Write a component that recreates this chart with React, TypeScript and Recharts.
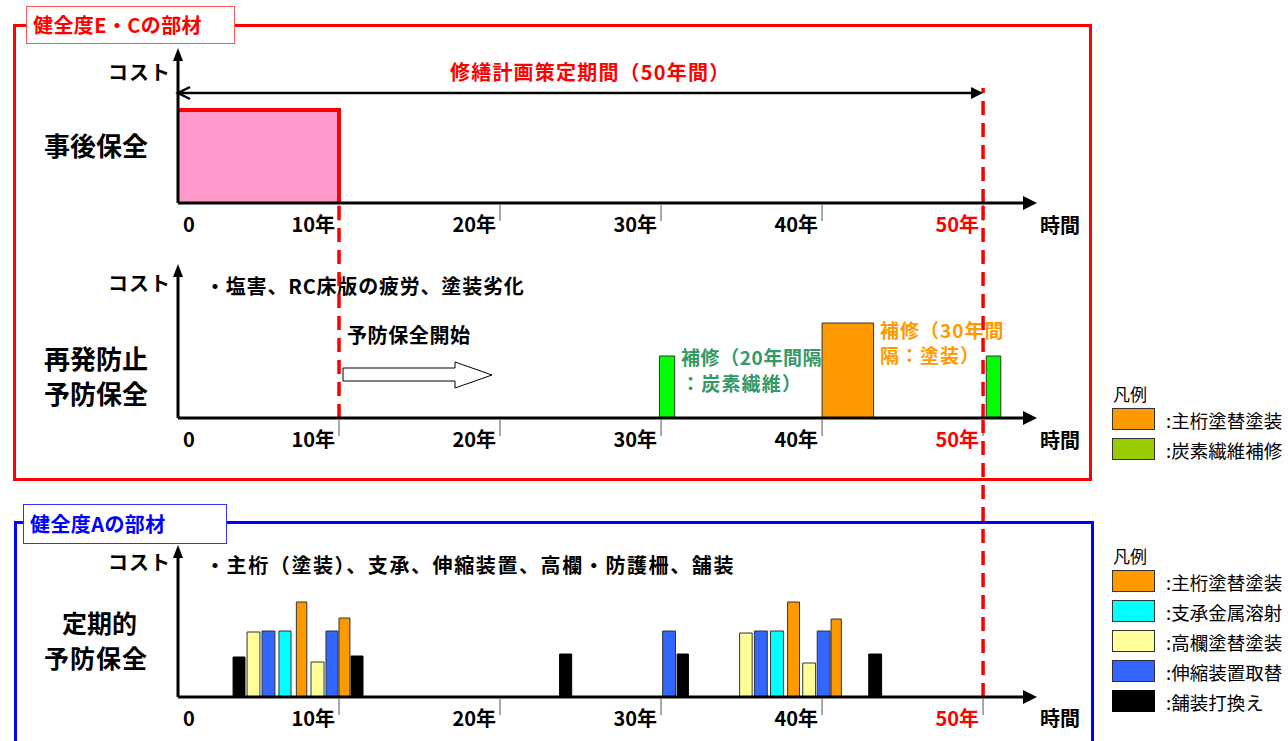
import React from 'react';
import { ComposedChart, XAxis, YAxis, Scatter, ReferenceArea, ReferenceLine } from 'recharts';

// time axis (years)
const yearTicks = [0, 10, 20, 30, 40, 50];
const yearLabels = ['0', '10年', '20年', '30年', '40年', '50年'];
const planEnd = 50;
const preventionStart = 10;

// [from year, to year, cost]
// 健全度E・C : 事後保全
const reactiveRepair: [number, number, number][] = [[0, 10, 93]];
// 健全度E・C : 再発防止予防保全
const carbonFiber: [number, number, number][] = [[29.9, 30.85, 62], [50.2, 51.1, 62]];
const recoating: [number, number, number][] = [[40.0, 43.2, 95]];
// 健全度A : 定期的予防保全
const girderPaint: [number, number, number][] = [[7.35, 8.0, 95], [10.0, 10.68, 79], [37.86, 38.6, 95], [40.56, 41.2, 78]];
const bearingSpray: [number, number, number][] = [[6.27, 7.02, 66], [36.8, 37.6, 66]];
const railingPaint: [number, number, number][] = [[4.29, 5.09, 65], [8.26, 9.07, 35], [34.88, 35.66, 64], [38.8, 39.6, 34]];
const jointReplace: [number, number, number][] = [[5.22, 6.02, 66], [9.19, 9.94, 66], [30.1, 30.9, 66], [35.8, 36.6, 66], [39.7, 40.5, 66]];
const paving: [number, number, number][] = [[3.42, 4.16, 40], [10.75, 11.49, 41], [23.7, 24.45, 43], [31.0, 31.7, 43], [42.9, 43.7, 43]];

const legendTop = [['主桁塗替塗装', '#FF9900'], ['炭素繊維補修', '#99CC00']];
const legendBottom = [
  ['主桁塗替塗装', '#FF9900'],
  ['支承金属溶射', '#00FFFF'],
  ['高欄塗替塗装', '#FFFF99'],
  ['伸縮装置取替', '#3366FF'],
  ['舗装打換え', '#000000'],
];

const FONT = "'Noto Sans CJK JP', 'Noto Sans', sans-serif";
const TICK_FONT = "'Liberation Sans Narrow', 'Noto Sans CJK JP', sans-serif";
const AXIS_LEFT = 178;
const AXIS_END = 1037;
const X_MAX = 53.35;
const RED = '#FF0000';

const Txt = ({ x, y, size, color = '#000', weight = 700, spacing = 0, children }: any) => (
  <div
    style={{
      position: 'absolute',
      left: x,
      top: y,
      transform: 'translateY(-50%)',
      fontSize: size,
      lineHeight: 1,
      fontWeight: weight,
      letterSpacing: spacing,
      color,
      fontFamily: FONT,
      whiteSpace: 'nowrap',
    }}
  >
    {children}
  </div>
);

const YearTick = (props: any) => {
  const { x, y, payload } = props;
  const v = payload.value;
  const label = yearLabels[yearTicks.indexOf(v)];
  return (
    <g>
      {v !== 0 && <line x1={x} y1={y + 2} x2={x} y2={y + 18} stroke="#555" strokeWidth={1} />}
      <text
        x={v === 0 ? x + 5 : x - 4}
        y={y + 29}
        textAnchor={v === 0 ? 'start' : 'end'}
        fill={v === planEnd ? RED : '#000'}
        fontSize={20}
        fontWeight={700}
        fontFamily={TICK_FONT}
      >
        {label}
      </text>
    </g>
  );
};

const arrowShape = (head: number, half: number, width: number, openStart = false) => (p: any) => {
  const { x1, y1, x2, y2 } = p;
  const dx = x2 - x1;
  const dy = y2 - y1;
  const len = Math.hypot(dx, dy) || 1;
  const ux = dx / len;
  const uy = dy / len;
  const bx = x2 - ux * head;
  const by = y2 - uy * head;
  const px = -uy * half;
  const py = ux * half;
  const sx = x1 + ux * head;
  const sy = y1 + uy * head;
  return (
    <g>
      <line x1={x1} y1={y1} x2={bx} y2={by} stroke="#000" strokeWidth={width} />
      <polygon points={`${x2},${y2} ${bx + px},${by + py} ${bx - px},${by - py}`} fill="#000" />
      {openStart && (
        <polyline
          points={`${sx + px},${sy + py} ${x1},${y1} ${sx - px},${sy - py}`}
          fill="none"
          stroke="#000"
          strokeWidth={width}
        />
      )}
    </g>
  );
};

const reactiveShape = (p: any) => {
  const { x, y, width, height } = p;
  return (
    <g>
      <rect x={x} y={y} width={width} height={height} fill="#FF99CC" />
      <path d={`M${x} ${y} H${x + width} V${y + height}`} fill="none" stroke={RED} strokeWidth={4} />
    </g>
  );
};

const bars = (rows: [number, number, number][], fill: string, key: string, stroke = '#333') =>
  rows.map(([a, b, c], i) => (
    <ReferenceArea
      key={key + i}
      x1={a}
      x2={b}
      y1={0}
      y2={c}
      fill={fill}
      fillOpacity={1}
      stroke={stroke}
      strokeWidth={1}
      ifOverflow="visible"
    />
  ));

const points = (...groups: [number, number, number][][]) =>
  groups.flat().map(([a, b, c]) => ({ x: (a + b) / 2, y: c }));

const dashed = (x: number, from: number, to: number) => (
  <ReferenceLine
    segment={[{ x, y: from }, { x, y: to }]}
    stroke={RED}
    strokeWidth={3.5}
    strokeDasharray="14 8"
    ifOverflow="visible"
  />
);

const TimeChart = ({ top, plotTop, plotHeight, axisHeight, costTip, data, children }: any) => {
  const height = plotTop - top + plotHeight + axisHeight;
  return (
    <div style={{ position: 'absolute', left: 0, top }}>
      <ComposedChart
        width={1288}
        height={height}
        data={data}
        margin={{ top: plotTop - top, right: 1288 - AXIS_END, bottom: 0, left: AXIS_LEFT }}
      >
        <XAxis
          type="number"
          dataKey="x"
          domain={[0, X_MAX]}
          ticks={yearTicks}
          interval={0}
          allowDataOverflow
          axisLine={false}
          tickLine={false}
          tickSize={0}
          tickMargin={0}
          height={axisHeight}
          tick={<YearTick />}
        />
        <YAxis type="number" dataKey="y" hide domain={[0, plotHeight]} allowDataOverflow />
        <Scatter data={data} dataKey="y" isAnimationActive={false} shape={() => <g />} />
        {children}
        <ReferenceLine
          segment={[{ x: 0, y: 0 }, { x: 0, y: costTip }]}
          shape={arrowShape(13, 5, 3)}
          ifOverflow="visible"
        />
        <ReferenceLine
          segment={[{ x: 0, y: 0 }, { x: X_MAX, y: 0 }]}
          shape={arrowShape(14, 7, 3)}
          ifOverflow="visible"
        />
      </ComposedChart>
    </div>
  );
};

const LegendBox = ({ top, items }: any) => (
  <>
    <Txt x={1113} y={top} size={17} weight={400}>凡例</Txt>
    {items.map(([name, color]: string[], i: number) => (
      <React.Fragment key={name + i}>
        <div
          style={{
            position: 'absolute',
            left: 1112,
            top: top + 15 + i * 30,
            width: 43,
            height: 22,
            background: color,
            border: color === '#000000' ? 'none' : '1.5px solid #333',
            boxSizing: 'border-box',
          }}
        />
        <Txt x={1166} y={top + 27 + i * 30} size={18.5} weight={400}>:{name}</Txt>
      </React.Fragment>
    ))}
  </>
);

const App = () => {
  return (
    <div
      style={{
        position: 'absolute',
        left: 0,
        top: 0,
        width: 1288,
        height: 741,
        overflow: 'hidden',
        background: '#fff',
        fontFamily: FONT,
      }}
    >
      {/* panel frames */}
      <div style={{ position: 'absolute', left: 13, top: 24, width: 1079, height: 457, border: `3px solid ${RED}`, boxSizing: 'border-box' }} />
      <div style={{ position: 'absolute', left: 14, top: 521, width: 1080, height: 260, border: '3px solid #0000FF', boxSizing: 'border-box' }} />
      <div style={{ position: 'absolute', left: 26, top: 6, width: 209, height: 38, border: '1.5px solid #FF5555', background: '#fff', boxSizing: 'border-box' }} />
      <div style={{ position: 'absolute', left: 23, top: 504, width: 204, height: 40, border: '1.5px solid #3333FF', background: '#fff', boxSizing: 'border-box' }} />
      <Txt x={33} y={25} size={20} color={RED} spacing={0.4}>健全度E・Cの部材</Txt>
      <Txt x={30} y={524} size={20} color="#0000FF" spacing={0.4}>健全度Aの部材</Txt>

      {/* panel 1 texts */}
      <Txt x={108} y={72} size={20} spacing={1}>コスト</Txt>
      <Txt x={450} y={72} size={20} color={RED} spacing={1.2}>修繕計画策定期間（50年間）</Txt>
      <Txt x={44} y={145} size={26}>事後保全</Txt>
      <Txt x={1040} y={225} size={20}>時間</Txt>

      {/* panel 2 texts */}
      <Txt x={108} y={283} size={20} spacing={1}>コスト</Txt>
      <Txt x={205} y={286} size={20} spacing={0.8}>・塩害、RC床版の疲労、塗装劣化</Txt>
      <Txt x={347} y={335} size={20} spacing={0.6}>予防保全開始</Txt>
      <Txt x={44} y={358} size={26}>再発防止</Txt>
      <Txt x={44} y={393} size={26}>予防保全</Txt>
      <Txt x={681} y={356} size={19} color="#339966" spacing={0.6}>補修（20年間隔</Txt>
      <Txt x={681} y={382} size={19} color="#339966" spacing={1.2}>：炭素繊維）</Txt>
      <Txt x={880} y={329} size={19} color="#FF9900" spacing={1}>補修（30年間</Txt>
      <Txt x={880} y={354} size={19} color="#FF9900" spacing={1}>隔：塗装）</Txt>
      <Txt x={1040} y={440} size={20}>時間</Txt>
      <svg style={{ position: 'absolute', left: 0, top: 0 }} width={600} height={420}>
        <polygon
          points="343,368 455,368 455,362 492,375 455,388 455,381 343,381"
          fill="#fff"
          stroke="#000"
          strokeWidth={1}
        />
      </svg>

      {/* panel 3 texts */}
      <Txt x={108} y={562} size={20} spacing={1}>コスト</Txt>
      <Txt x={205} y={565} size={20} spacing={1.6}>・主桁（塗装）、支承、伸縮装置、高欄・防護柵、舗装</Txt>
      <Txt x={62} y={622} size={25}>定期的</Txt>
      <Txt x={44} y={657} size={25} spacing={1}>予防保全</Txt>
      <Txt x={1040} y={718} size={20}>時間</Txt>

      <LegendBox top={393} items={legendTop} />
      <LegendBox top={555} items={legendBottom} />

      {/* 事後保全 */}
      <TimeChart top={0} plotTop={40} plotHeight={163} axisHeight={57} costTip={155} data={points(reactiveRepair)}>
        {reactiveRepair.map(([a, b, c], i) => (
          <ReferenceArea key={'r' + i} x1={a} x2={b} y1={0} y2={c} shape={reactiveShape} ifOverflow="visible" />
        ))}
        {dashed(planEnd, 0, 115)}
        <ReferenceLine
          segment={[{ x: 0, y: 110 }, { x: planEnd, y: 110 }]}
          shape={arrowShape(12, 6, 2.5, true)}
          ifOverflow="visible"
        />
      </TimeChart>

      {/* 再発防止予防保全 */}
      <TimeChart top={203} plotTop={203} plotHeight={215} axisHeight={57} costTip={154} data={points(carbonFiber, recoating)}>
        {bars(carbonFiber, '#00FF00', 'c')}
        {bars(recoating, '#FF9900', 'o')}
        {dashed(preventionStart, 0, 215)}
        {dashed(planEnd, 0, 215)}
      </TimeChart>

      {/* 定期的予防保全 */}
      <TimeChart
        top={420}
        plotTop={420}
        plotHeight={277}
        axisHeight={44}
        costTip={152}
        data={points(girderPaint, bearingSpray, railingPaint, jointReplace, paving)}
      >
        {bars(paving, '#000000', 'p', '#000')}
        {bars(railingPaint, '#FFFF99', 'y')}
        {bars(jointReplace, '#3366FF', 'b')}
        {bars(bearingSpray, '#00FFFF', 'n')}
        {bars(girderPaint, '#FF9900', 'g')}
        {dashed(planEnd, 0, 277)}
      </TimeChart>
    </div>
  );
};

export default App;
